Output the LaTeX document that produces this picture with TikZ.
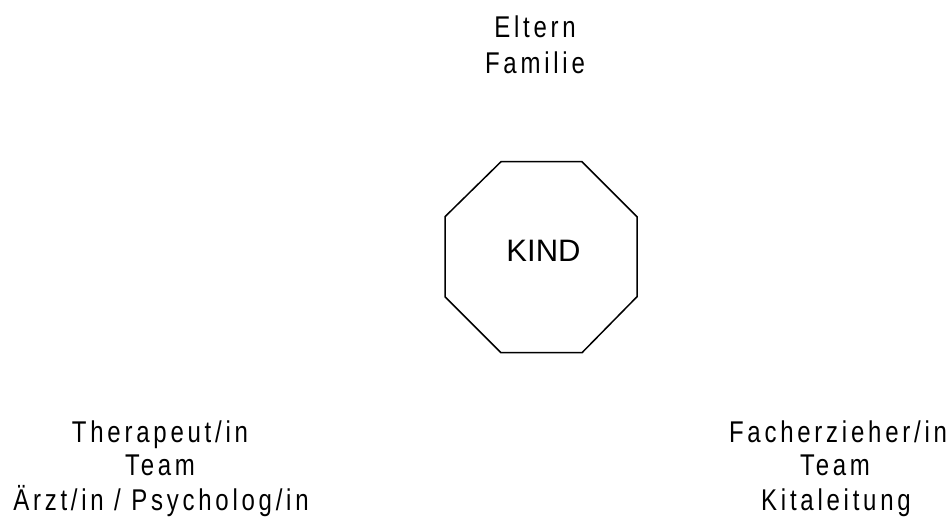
\documentclass[tikz,border=0pt]{standalone}
\usepackage{fontspec}
\setmainfont{Liberation Sans}
\newfontfamily\spacedfont[FakeStretch=0.8,LetterSpace=12.5]{Liberation Sans}
\begin{document}
\begin{tikzpicture}[x=1pt,y=-1pt,
  lbl/.style={font=\spacedfont\fontsize{30}{35}\selectfont, anchor=base, inner sep=0pt},
  kidlbl/.style={font=\fontsize{31}{36}\selectfont, anchor=base, inner sep=0pt},
  octo/.style={line width=1.5pt, line join=miter}]
\useasboundingbox (0,0) rectangle (949,522);
\draw[octo] (501,161.7) -- (582,161.7) -- (637,216.7) -- (637,296.7) -- (582,352.7) -- (501,352.7) -- (445,296.7) -- (445,216.7) -- cycle;
\node[kidlbl] (kind) at (543.5,261) {KIND};
\node[lbl] (e1) at (535,37) {Eltern};
\node[lbl] (e2) at (535,73) {Familie};
\node[lbl] (t1) at (160,442) {Therapeut/in};
\node[lbl] (t2) at (160,475) {Team};
\node[lbl] (t3) at (161,510) {Ärzt/in / Psycholog/in};
\node[lbl] (f1) at (838,442) {Facherzieher/in};
\node[lbl] (f2) at (835,475) {Team};
\node[lbl] (f3) at (836,510) {Kitaleitung};
\end{tikzpicture}
\end{document}
